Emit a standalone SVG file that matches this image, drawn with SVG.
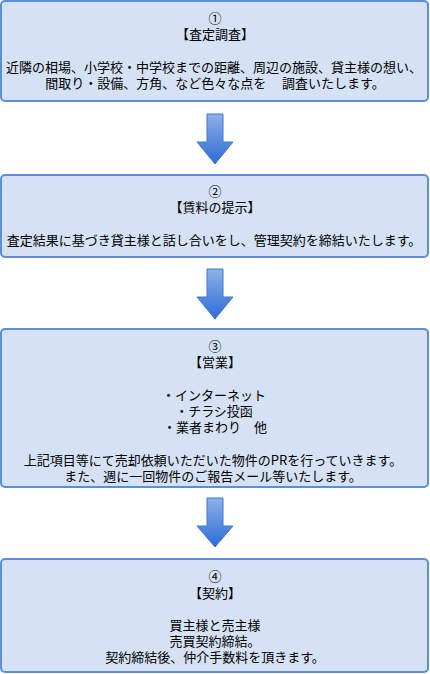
<svg xmlns="http://www.w3.org/2000/svg" width="430" height="674" viewBox="0 0 430 674">
<style>
.box{fill:#d5e1f4;stroke:#5b8fd9;stroke-width:2}
.t{font-family:"Noto Sans CJK JP","Noto Sans",sans-serif;font-size:13px;fill:#000;text-anchor:middle;white-space:pre}
.arr{fill:url(#ag);stroke:#3f78d3;stroke-width:1}
</style>
<defs>
<linearGradient id="ag" x1="0" y1="0" x2="0" y2="1">
<stop offset="0" stop-color="#8db0e8"/>
<stop offset="1" stop-color="#2d6cd6"/>
</linearGradient>
</defs>
<rect x="0" y="0" width="430" height="674" fill="#ffffff"/>
<g id="connectors">
<polygon class="arr" points="207,114 223,114 223,142 233,142 215,164 197,142 207,142"/>
<polygon class="arr" points="207,269 223,269 223,297 233,297 215,319 197,297 207,297"/>
<polygon class="arr" points="207,498 223,498 223,526 233,526 215,547 197,526 207,526"/>
</g>
<g id="node1">
<rect class="box" x="1" y="1" width="427" height="100" rx="4"/>
<text class="t"><tspan x="215" y="23">①</tspan><tspan x="215" y="39">【査定調査】</tspan><tspan x="214" y="72">近隣の相場、小学校・中学校までの距離、周辺の施設、貸主様の想い、</tspan><tspan x="215" y="88">間取り・設備、方角、など色々な点を　 調査いたします。</tspan></text>
</g>
<g id="node2">
<rect class="box" x="1" y="175" width="427" height="82" rx="4"/>
<text class="t"><tspan x="215" y="196">②</tspan><tspan x="215" y="212">【賃料の提示】</tspan><tspan x="214" y="245">査定結果に基づき貸主様と話し合いをし、管理契約を締結いたします。</tspan></text>
</g>
<g id="node3">
<rect class="box" x="1" y="329" width="427" height="158" rx="4"/>
<text class="t"><tspan x="215" y="351">③</tspan><tspan x="215" y="367">【営業】</tspan><tspan x="214" y="400">・インターネット</tspan><tspan x="214" y="416">・チラシ投函</tspan><tspan x="215" y="432">・業者まわり　他</tspan><tspan x="213" y="465">上記項目等にて売却依頼いただいた物件のPRを行っていきます。</tspan><tspan x="213" y="481">また、週に一回物件のご報告メール等いたします。</tspan></text>
</g>
<g id="node4">
<rect class="box" x="1" y="559" width="427" height="113" rx="4"/>
<text class="t"><tspan x="215" y="581">④</tspan><tspan x="215" y="598">【契約】</tspan><tspan x="215" y="630">買主様と売主様</tspan><tspan x="215" y="646">売買契約締結。</tspan><tspan x="215" y="662">契約締結後、仲介手数料を頂きます。</tspan></text>
</g>
</svg>
